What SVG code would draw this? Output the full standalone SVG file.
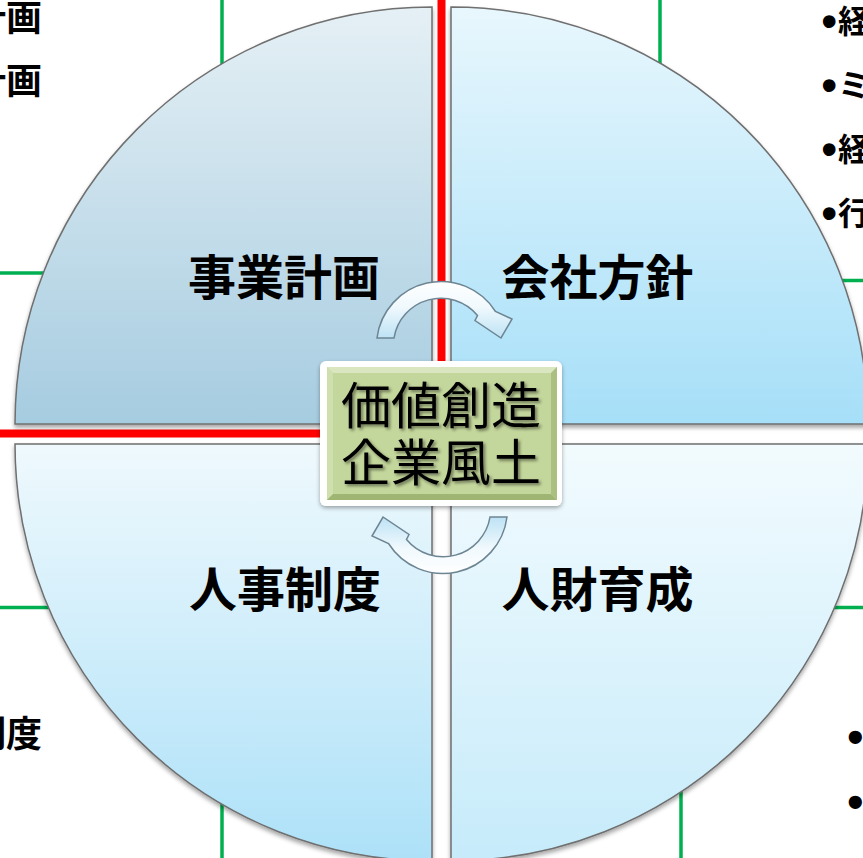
<svg xmlns="http://www.w3.org/2000/svg" width="863" height="858" viewBox="0 0 863 858">
<defs>
<style>
.lbl{font-family:"Noto Sans CJK JP","Noto Sans",sans-serif;font-weight:bold;font-size:48px;fill:#000;text-anchor:middle}
.ctr{font-family:"Noto Sans CJK JP","Noto Sans",sans-serif;font-size:50px;fill:#000;text-anchor:middle;filter:url(#tsh)}
.side{font-family:"Noto Sans CJK JP",sans-serif;font-weight:bold;font-size:36px;fill:#000;text-anchor:end}
.rt{font-family:"Noto Sans CJK JP",sans-serif;font-weight:bold;font-size:32px;fill:#000}
.bul{font-family:"Liberation Sans",Arial,sans-serif;font-weight:bold;fill:#000}
.g{stroke:#00b050;stroke-width:3.5;fill:none}
.r{stroke:#ff0000;stroke-width:8;fill:none}
.q{stroke:#6f6f6f;stroke-width:1.5;filter:url(#sh)}
.arr{fill:url(#ga);stroke:#6d8593;stroke-width:1.5}
</style>
<filter id="sh" x="-5%" y="-5%" width="110%" height="112%"><feDropShadow dx="0" dy="3" stdDeviation="2" flood-color="#000" flood-opacity="0.35"/></filter>
<filter id="tsh" x="-10%" y="-20%" width="120%" height="140%"><feDropShadow dx="2" dy="2" stdDeviation="1.5" flood-color="#000" flood-opacity="0.45"/></filter>
<filter id="bsh" x="-10%" y="-10%" width="120%" height="125%"><feDropShadow dx="0" dy="2" stdDeviation="2" flood-color="#000" flood-opacity="0.35"/></filter>
<linearGradient id="gTL" x1="0" y1="0" x2="0" y2="1"><stop offset="0" stop-color="#e5f0f5"/><stop offset="1" stop-color="#a6cce0"/></linearGradient>
<linearGradient id="gTR" x1="0" y1="0" x2="0" y2="1"><stop offset="0" stop-color="#e8f7fd"/><stop offset="1" stop-color="#a6dff8"/></linearGradient>
<linearGradient id="gBL" x1="0" y1="0" x2="0" y2="1"><stop offset="0" stop-color="#eff9fd"/><stop offset="1" stop-color="#ade1f8"/></linearGradient>
<linearGradient id="gBR" x1="0" y1="0" x2="0" y2="1"><stop offset="0" stop-color="#f2fbfe"/><stop offset="1" stop-color="#c6ebfa"/></linearGradient>
<linearGradient id="ga" x1="0" y1="0" x2="0" y2="1"><stop offset="0" stop-color="#ffffff"/><stop offset="0.45" stop-color="#f0f9fd"/><stop offset="1" stop-color="#bde2f5"/></linearGradient>
</defs>
<rect width="863" height="858" fill="#fff"/>
<g id="connectors">
<line class="g" x1="222" y1="0" x2="222" y2="70"/>
<line class="g" x1="660" y1="0" x2="660" y2="70"/>
<line class="g" x1="0" y1="273" x2="50" y2="273"/>
<line class="g" x1="835" y1="280.5" x2="863" y2="280.5"/>
<line class="g" x1="0" y1="607.5" x2="55" y2="607.5"/>
<line class="g" x1="825" y1="607.5" x2="863" y2="607.5"/>
<line class="g" x1="222" y1="795" x2="222" y2="858"/>
<line class="g" x1="681" y1="785" x2="681" y2="858"/>
<line class="r" x1="441.5" y1="0" x2="441.5" y2="370"/>
<line class="r" x1="0" y1="433.5" x2="330" y2="433.5"/>
</g>
<g id="q-jigyo">
<path class="q" fill="url(#gTL)" d="M432 424 L15 424 A417 417 0 0 1 432 7 Z"/>
<text class="lbl" x="284" y="295">事業計画</text>
</g>
<g id="q-kaisha">
<path class="q" fill="url(#gTR)" d="M451 424 L451 7 A417 417 0 0 1 868 424 Z"/>
<text class="lbl" x="597.5" y="295">会社方針</text>
</g>
<g id="q-jinji">
<path class="q" fill="url(#gBL)" d="M432 444 L432 861 A417 417 0 0 1 15 444 Z"/>
<text class="lbl" x="285" y="607">人事制度</text>
</g>
<g id="q-jinzai">
<path class="q" fill="url(#gBR)" d="M451 444 L868 444 A417 417 0 0 1 451 861 Z"/>
<text class="lbl" x="597.5" y="607">人財育成</text>
</g>
<g id="arrow-top">
<path class="arr" d="M377 338 A64.5 64.5 0 0 1 495.5 311.5 L512 319 L501 338 L475 320.5 L477.5 315.5 A47.5 47.5 0 0 0 394 338 Z"/>
</g>
<g id="arrow-bottom">
<path class="arr" transform="rotate(180 442 427.5)" d="M377 338 A64.5 64.5 0 0 1 495.5 311.5 L512 319 L501 338 L475 320.5 L477.5 315.5 A47.5 47.5 0 0 0 394 338 Z"/>
</g>
<g id="center">
<rect x="320" y="361" width="242" height="145" rx="6" fill="#fff" filter="url(#bsh)"/>
<rect x="327" y="367" width="230" height="133" fill="#c3d69b"/>
<polygon points="327,367 557,367 551,373 333,373" fill="#d9e6c0"/>
<polygon points="327,367 333,373 333,494 327,500" fill="#cfdfae"/>
<polygon points="327,500 333,494 551,494 557,500" fill="#9fb574"/>
<polygon points="557,367 557,500 551,494 551,373" fill="#aabf80"/>
<text class="ctr" x="441" y="423.5">価値創造</text>
<text class="ctr" x="441" y="481">企業風土</text>
</g>
<g id="side-left">
<text class="side" x="42" y="31">計画</text>
<text class="side" x="42" y="94">計画</text>
<text class="side" x="42" y="747">制度</text>
</g>
<g id="side-right">
<text class="bul" x="821.5" y="36" font-size="44">•</text>
<text class="rt" x="838" y="33">経</text>
<text class="bul" x="821.5" y="100" font-size="44">•</text>
<text class="rt" x="838" y="97">ミ</text>
<text class="bul" x="821.5" y="164" font-size="44">•</text>
<text class="rt" x="838" y="161">経</text>
<text class="bul" x="821.5" y="228" font-size="44">•</text>
<text class="rt" x="838" y="225">行</text>
<text class="bul" x="847.3" y="753" font-size="46">•</text>
<text class="bul" x="847.3" y="818" font-size="46">•</text>
</g>
</svg>
